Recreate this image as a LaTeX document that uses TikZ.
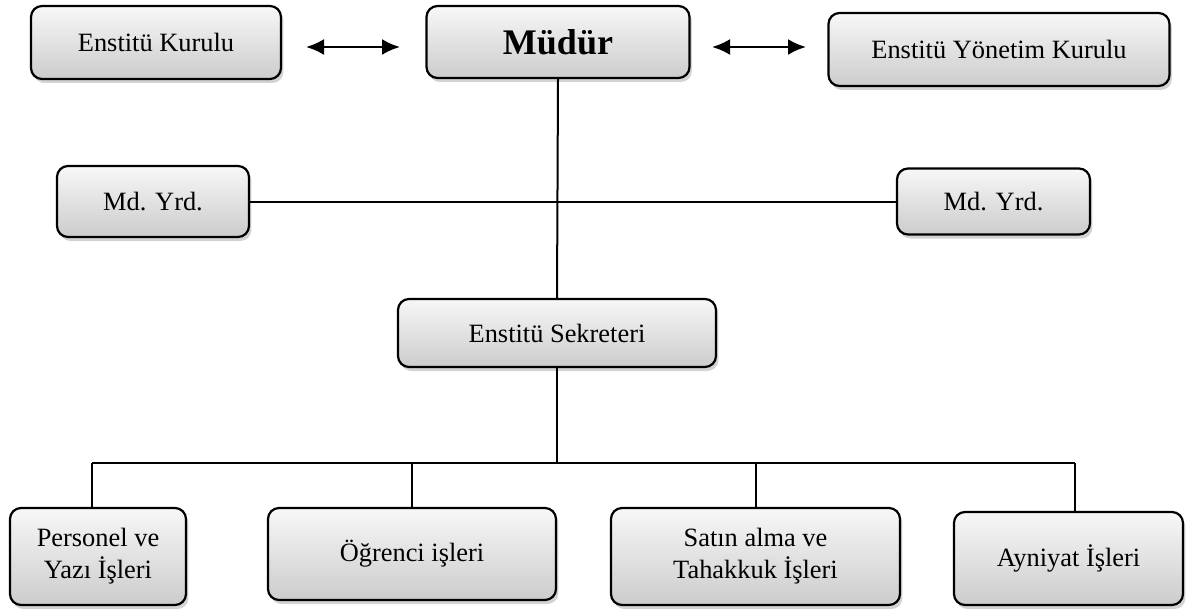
\documentclass[tikz,border=0pt]{standalone}
\usepackage{fontspec}
\setmainfont{Liberation Serif}
\usetikzlibrary{shadows,arrows.meta}

\begin{document}
\begin{tikzpicture}[x=0.5pt, y=-0.5pt,
    unit/.style={draw=black, line width=1.1pt, rounded corners=5.5pt, top color=gray!6, bottom color=gray!40, drop shadow={shadow xshift=1.2pt, shadow yshift=-2pt, opacity=0.35}, align=center, font=\fontsize{13.2}{16}\selectfont, inner sep=2pt},
    link/.style={line width=1pt},
    both/.style={line width=1.2pt, {Latex[length=9pt,width=8pt]}-{Latex[length=9pt,width=8pt]}}]
      \useasboundingbox (0,0) rectangle (1194,610);

      \node[unit, minimum width=125pt, minimum height=36.5pt] (ek)  at (156, 42.5) {Enstitü Kurulu};
      \node[unit, minimum width=131.5pt, minimum height=36pt, font=\fontsize{18}{21}\selectfont\bfseries] (mud) at (558, 42) {Müdür};
      \node[unit, minimum width=170.5pt, minimum height=36.5pt] (eyk) at (999, 49.5) {Enstitü Yönetim Kurulu};
      \node[unit, minimum width=96pt, minimum height=35.5pt] (myl) at (153, 201.5) {Md. Yrd.};
      \node[unit, minimum width=96.5pt, minimum height=33pt] (myr) at (993.5, 201.5) {Md. Yrd.};
      \node[unit, minimum width=159pt, minimum height=34pt] (sek) at (557, 333) {Enstitü Sekreteri};
      \node[unit, minimum width=88pt, minimum height=48.5pt] (p1) at (98, 556.5) {Personel ve\\Yazı İşleri};
      \node[unit, minimum width=144pt, minimum height=46pt] (p2) at (412, 554) {Öğrenci işleri};
      \node[unit, minimum width=144.5pt, minimum height=48.5pt] (p3) at (755.5, 556.5) {Satın alma ve\\Tahakkuk İşleri};
      \node[unit, minimum width=114.5pt, minimum height=46.5pt] (p4) at (1068.5, 558.5) {Ayniyat İşleri};

      % double arrows
      \coordinate (a1) at (306, 47);
      \coordinate (a2) at (400, 47);
      \coordinate (a3) at (712, 47);
      \coordinate (a4) at (806, 47);
      \draw[both] (a1) -- (a2);
      \draw[both] (a3) -- (a4);

      \draw[link] (mud.south) -- (sek.north);
      \draw[link] (myl.east) -- (myr.west);

      % bus to the units
      \coordinate (b1) at (92, 463);
      \coordinate (b4) at (1075, 463);
      \draw[link] (sek.south) -- (sek.south |- b1);
      \draw[link] (b1) -- (b4);
      \draw[link] (p1.north -| b1) -- (b1);
      \draw[link] (p2.north) -- (p2.north |- b1);
      \draw[link] (p3.north) -- (p3.north |- b1);
      \draw[link] (p4.north -| b4) -- (b4);
    \end{tikzpicture}
\end{document}
